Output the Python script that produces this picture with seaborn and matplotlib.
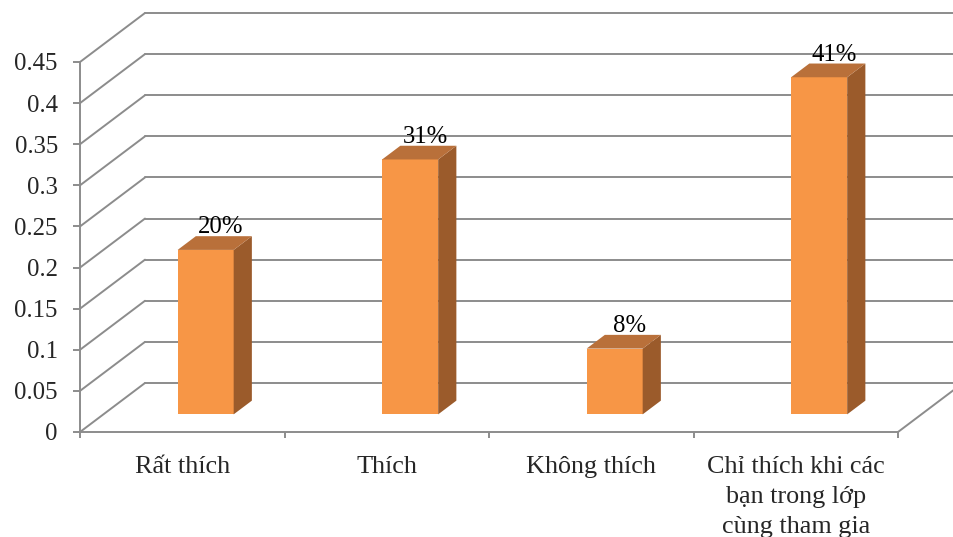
import matplotlib
matplotlib.use("Agg")
import matplotlib.pyplot as plt
from matplotlib.transforms import Affine2D
from matplotlib.patches import Polygon
import seaborn as sns
import pandas as pd

categories = ["Rất thích", "Thích", "Không thích",
              "Chỉ thích khi các\nbạn trong lớp\ncùng tham gia"]
values = [0.20, 0.31, 0.08, 0.41]
value_labels = ["20%", "31%", "8%", "41%"]
y_ticks = [0, 0.05, 0.1, 0.15, 0.2, 0.25, 0.3, 0.35, 0.4, 0.45]
y_tick_labels = ["0", "0.05", "0.1", "0.15", "0.2", "0.25", "0.3", "0.35", "0.4", "0.45"]

sns.set_theme(style="white")
plt.rcParams["font.family"] = ["Liberation Serif", "DejaVu Serif"]

FRONT = "#F79646"
TOP = "#B9703A"
SIDE = "#9B5B2B"
GRID = "#8C8C8C"

W, H = 954, 537
fig = plt.figure(figsize=(W / 100, H / 100), dpi=100)
ax = fig.add_axes([80 / W, (H - 432) / H, 818 / W, 370 / H])

df = pd.DataFrame({"cat": categories, "val": values})
sns.barplot(data=df, x="cat", y="val", width=0.274, color=FRONT,
            saturation=1, ax=ax, zorder=3, linewidth=0)

ax.set_xlim(-0.5, 3.5)
ax.set_ylim(0, 0.45)

# depth geometry (fraction of category width / value units)
DX = 65 / 204.5
DY = 49 / 822.2
f_front = 0.36
f_depth = 0.28
fdx, fdy = DX * f_front, DY * f_front
bdx, bdy = DX * f_depth, DY * f_depth

# back wall & left wall grid lines
x0, x1 = ax.get_xlim()
for yv in y_ticks:
    ax.plot([x0, x0 + DX], [yv, yv + DY], color=GRID, lw=1.4, clip_on=False, zorder=1)
    ax.plot([x0 + DX, x1 + DX + 0.2], [yv + DY, yv + DY], color=GRID, lw=1.4,
            clip_on=False, zorder=1)
# floor right edge
ax.plot([x1, x1 + DX], [0, DY], color=GRID, lw=1.4, clip_on=False, zorder=1)

# 3D bars
for p, lab in zip(list(ax.patches), value_labels):
    p.set_transform(Affine2D().translate(fdx, fdy) + ax.transData)
    bx, bw, bh = p.get_x(), p.get_width(), p.get_height()
    xl, xr = bx + fdx, bx + bw + fdx
    yb, yt = fdy, bh + fdy
    side = Polygon([(xr, yb), (xr + bdx, yb + bdy), (xr + bdx, yt + bdy), (xr, yt)],
                   closed=True, facecolor=SIDE, edgecolor="none", zorder=3)
    top = Polygon([(xl, yt), (xr, yt), (xr + bdx, yt + bdy), (xl + bdx, yt + bdy)],
                  closed=True, facecolor=TOP, edgecolor="none", zorder=3)
    ax.add_patch(side)
    ax.add_patch(top)
    ax.text(bx + bw / 2 + DX * 0.59, bh + DY * 0.7, lab, ha="center", va="baseline",
            fontsize=17.8, color="black", zorder=4)

# axes styling
for s in ["top", "right"]:
    ax.spines[s].set_visible(False)
for s in ["left", "bottom"]:
    ax.spines[s].set_color(GRID)
    ax.spines[s].set_linewidth(1.4)
ax.grid(False)
ax.set_yticks(y_ticks)
ax.set_yticklabels(y_tick_labels)
ax.set_xticks([-0.5, 0.5, 1.5, 2.5, 3.5], minor=True)
ax.tick_params(axis="x", which="minor", length=4, width=1.4, color=GRID, bottom=True)
ax.tick_params(axis="x", which="major", length=0, pad=17.5, labelsize=18.8)
ax.tick_params(axis="y", length=5, width=1.4, color=GRID, left=True, pad=11, labelsize=17.8)
for lbl in ax.get_xticklabels():
    lbl.set_linespacing(1.45)
ax.set_xlabel("")
ax.set_ylabel("")

fig.savefig("out.png", dpi=100)
